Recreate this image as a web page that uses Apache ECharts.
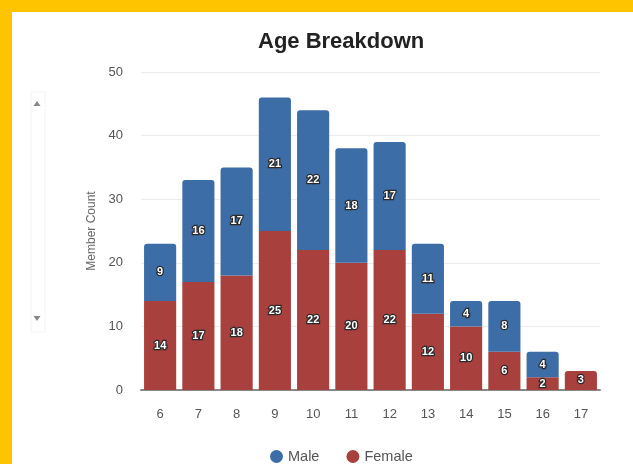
<!DOCTYPE html>
<html>
<head>
<meta charset="utf-8">
<script src="https://cdn.jsdelivr.net/npm/echarts@6/dist/echarts.min.js"></script>
<style>
  html, body { margin: 0; padding: 0; background: #ffc400; }
  #chart { position: absolute; left: 12px; top: 12px; width: 621px; height: 452px; background: #fff; }
</style>
</head>
<body>
<div id="chart"></div>
<script>
// ages on the x axis
const ages = ['6', '7', '8', '9', '10', '11', '12', '13', '14', '15', '16', '17'];
// member counts per age
const male = [9, 16, 17, 21, 22, 18, 17, 11, 4, 8, 4, 0];
const female = [14, 17, 18, 25, 22, 20, 22, 12, 10, 6, 2, 3];

const labelStyle = {
    show: true,
    position: 'inside',
    color: '#fff',
    fontSize: 11,
    fontWeight: 'bold',
    fontFamily: 'Liberation Sans',
    textBorderColor: '#2a2a2a',
    textBorderWidth: 2.5,
    formatter: p => (p.value ? p.value : '')
};

const myChart = echarts.init(document.getElementById('chart'));
myChart.setOption({
    animation: false,
    textStyle: { fontFamily: 'Liberation Sans' },
    title: {
        text: 'Age Breakdown',
        left: 241,
        top: 14,
        textStyle: { fontSize: 22, fontWeight: 'bold', color: '#222' }
    },
    legend: {
        top: 432,
        left: 253,
        icon: 'circle',
        itemWidth: 13,
        itemHeight: 13,
        itemGap: 27,
        textStyle: { fontSize: 14.5, color: '#555' },
        data: ['Male', 'Female']
    },
    grid: { left: 129, right: 33, top: 60, bottom: 74 },
    xAxis: {
        type: 'category',
        data: ages,
        axisTick: { show: false },
        axisLine: { lineStyle: { color: '#888', width: 2 } },
        axisLabel: { color: '#555', fontSize: 13, margin: 18 }
    },
    yAxis: {
        type: 'value',
        min: 0,
        max: 50,
        interval: 10,
        name: 'Member Count',
        nameLocation: 'middle',
        nameGap: 43,
        nameTextStyle: { color: '#666', fontSize: 12 },
        axisLabel: { color: '#555', fontSize: 13, margin: 18 },
        splitLine: { lineStyle: { color: '#ececec' } }
    },
    graphic: [
        { type: 'rect', shape: { x: 19, y: 80, width: 14, height: 240 },
          style: { fill: '#fff', stroke: '#f4f4f4', lineWidth: 1 } },
        { type: 'polygon', shape: { points: [[21.5, 94], [28.5, 94], [25, 89]] },
          style: { fill: '#888' } },
        { type: 'polygon', shape: { points: [[21.5, 304], [28.5, 304], [25, 309]] },
          style: { fill: '#888' } }
    ],
    series: [
        {
            name: 'Female',
            type: 'bar',
            stack: 'age',
            barCategoryGap: '16%',
            itemStyle: { color: '#a8403d', borderRadius: 0 },
            label: labelStyle,
            data: female.map((v, i) => male[i] ? v : { value: v, itemStyle: { borderRadius: [3, 3, 0, 0] } })
        },
        {
            name: 'Male',
            type: 'bar',
            stack: 'age',
            itemStyle: { color: '#3d6da6', borderRadius: [3, 3, 0, 0] },
            label: labelStyle,
            data: male
        }
    ]
});
</script>
</body>
</html>
